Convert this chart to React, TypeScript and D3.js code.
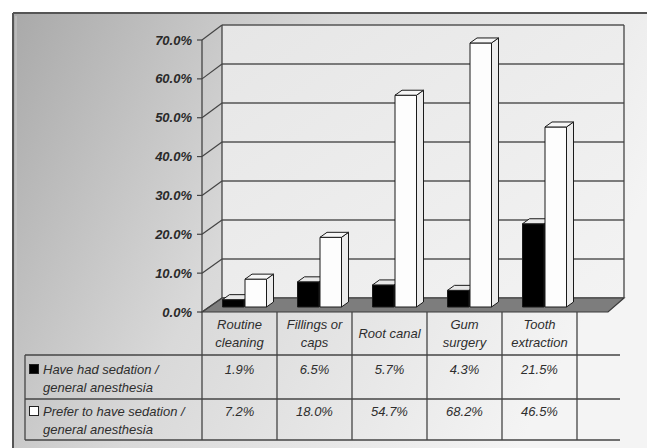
import React from "react";
import * as d3 from "d3";

const categories: string[][] = [
  ["Routine", "cleaning"],
  ["Fillings or", "caps"],
  ["Root canal"],
  ["Gum", "surgery"],
  ["Tooth", "extraction"],
];
const hadSedation = [1.9, 6.5, 5.7, 4.3, 21.5];
const preferSedation = [7.2, 18.0, 54.7, 68.2, 46.5];
const yTicks = [0, 10, 20, 30, 40, 50, 60, 70];
const seriesNames = [
  ["Have had sedation /", "general anesthesia"],
  ["Prefer to have sedation /", "general anesthesia"],
];

const W = 647;
const H = 448;
const DX = 20; // depth offset x (front → back)
const DY = 14; // depth offset y
const BDX = 7; // bar depth
const BDY = 5;

export default function App() {
  const font = "'Liberation Sans', Arial, sans-serif";
  const idx = categories.map((_, i) => String(i));
  const xBand = d3.scaleBand<string>().domain(idx).range([202, 577]).padding(0);
  const xSeries = d3.scaleBand<string>().domain(["had", "prefer"]).range([20.5, 65.5]).padding(0);
  const yFront = d3.scaleLinear().domain([0, 70]).range([312, 40]);
  const yBack = d3.scaleLinear().domain([0, 70]).range([298, 25]);
  const yBar = d3.scaleLinear().domain([0, 70]).range([307, 36]);

  const backL = 202 + DX;
  const backR = 624;
  const floorFrontR = backR - DX + 4;

  const bar = (x: number, v: number, w: number, dark: boolean, key: string) => {
    const y0 = yBar(0);
    const y1 = yBar(v);
    const front = `M${x},${y0}V${y1}H${x + w}V${y0}Z`;
    const top = `M${x},${y1}L${x + BDX},${y1 - BDY}H${x + w + BDX}L${x + w},${y1}Z`;
    const side = `M${x + w},${y0}V${y1}L${x + w + BDX},${y1 - BDY}V${y0 - BDY}Z`;
    return (
      <g key={key} stroke="#1a1a1a" strokeWidth={1} strokeLinejoin="round">
        <path d={side} fill={dark ? "#000" : "#ececec"} />
        <path d={front} fill={dark ? "#000" : "#fdfdfd"} />
        <path d={top} fill={dark ? "#e8e8e8" : "#f6f6f6"} />
      </g>
    );
  };

  return (
    <svg
      width={W}
      height={H}
      style={{ position: "absolute", left: 0, top: 0, fontFamily: font }}
    >
      <defs>
        <linearGradient id="bg" x1="0" y1="0" x2="1" y2="0.35">
          <stop offset="0" stopColor="#a9a9a9" />
          <stop offset="0.45" stopColor="#d9d9d9" />
          <stop offset="1" stopColor="#f4f4f4" />
        </linearGradient>
        <linearGradient id="wall" x1="0" y1="0" x2="1" y2="1">
          <stop offset="0" stopColor="#e6e6e6" />
          <stop offset="1" stopColor="#f3f3f3" />
        </linearGradient>
      </defs>
      <rect x={0} y={0} width={W} height={H} fill="#ffffff" />
      <rect x={13} y={13} width={W} height={H} fill="url(#bg)" />
      <line x1={13} y1={13} x2={W} y2={13} stroke="#555" strokeWidth={2} />
      <line x1={13} y1={13} x2={13} y2={H} stroke="#555" strokeWidth={2} />
      <line x1={16} y1={16} x2={16} y2={H} stroke="#c8c8c8" strokeWidth={1} />

      {/* back wall */}
      <rect x={backL} y={yBack(70)} width={backR - backL} height={yBack(0) - yBack(70)} fill="url(#wall)" />
      {yTicks.map((t) => (
        <line key={"g" + t} x1={backL} x2={backR} y1={yBack(t)} y2={yBack(t)} stroke="#555" strokeWidth={1.3} />
      ))}
      <line x1={backL} x2={backL} y1={yBack(70)} y2={yBack(0)} stroke="#444" strokeWidth={1.3} />
      <line x1={backR} x2={backR} y1={yBack(70)} y2={yBack(0)} stroke="#444" strokeWidth={1.3} />

      {/* floor */}
      <path
        d={`M202,${yFront(0)}L${backL},${yBack(0)}H${backR}L${floorFrontR},${yFront(0)}Z`}
        fill="#7d7d7d"
        stroke="#3a3a3a"
        strokeWidth={1.2}
      />

      {/* axis */}
      <line x1={202} x2={202} y1={yFront(70)} y2={yFront(0)} stroke="#444" strokeWidth={1.3} />
      {yTicks.map((t) => (
        <g key={"t" + t}>
          <line x1={197} x2={202} y1={yFront(t)} y2={yFront(t)} stroke="#444" strokeWidth={1.2} />
          <line x1={202} x2={backL} y1={yFront(t)} y2={yBack(t)} stroke="#444" strokeWidth={1.2} />
          <text
            x={192}
            y={yFront(t) + 4.5}
            textAnchor="end"
            fontSize={13}
            fontWeight="bold"
            fontStyle="italic"
            fill="#2a2a2a"
          >
            {t.toFixed(1) + "%"}
          </text>
        </g>
      ))}

      {/* bars */}
      {idx.map((k, i) => {
        const x0 = xBand(k)!;
        const w = xSeries.bandwidth() - 1;
        return (
          <g key={"b" + k}>
            {bar(x0 + xSeries("had")!, hadSedation[i], w, true, "h" + k)}
            {bar(x0 + xSeries("prefer")!, preferSedation[i], w, false, "p" + k)}
          </g>
        );
      })}

      {/* data table */}
      <g stroke="#444" strokeWidth={1.3}>
        {d3.range(categories.length + 1).map((i) => (
          <line key={"v" + i} x1={202 + xBand.step() * i} x2={202 + xBand.step() * i} y1={312} y2={440} />
        ))}
        <line x1={25} x2={25} y1={355} y2={440} />
        <line x1={25} x2={620} y1={355} y2={355} />
        <line x1={25} x2={620} y1={399} y2={399} />
        <line x1={25} x2={620} y1={440} y2={440} />
      </g>
      {idx.map((k, i) => {
        const cx = xBand(k)! + xBand.bandwidth() / 2;
        const lines = categories[i];
        const startY = lines.length === 1 ? 338 : 329;
        return (
          <g key={"c" + k} fontSize={13} fontStyle="italic" fill="#2e2e2e" textAnchor="middle">
            {lines.map((l, j) => (
              <text key={j} x={cx} y={startY + j * 18}>
                {l}
              </text>
            ))}
            <text x={cx} y={374}>{hadSedation[i].toFixed(1) + "%"}</text>
            <text x={cx} y={416}>{preferSedation[i].toFixed(1) + "%"}</text>
          </g>
        );
      })}
      {seriesNames.map((s, r) => {
        const y = r === 0 ? 374 : 416;
        return (
          <g key={"l" + r} fontSize={13} fontStyle="italic" fill="#2e2e2e">
            <rect x={29.5} y={y - 9.5} width={9} height={9} fill={r === 0 ? "#000" : "#fff"} stroke="#222" strokeWidth={1} />
            <text x={43} y={y}>{s[0]}</text>
            <text x={43} y={y + 18}>{s[1]}</text>
          </g>
        );
      })}
    </svg>
  );
}
